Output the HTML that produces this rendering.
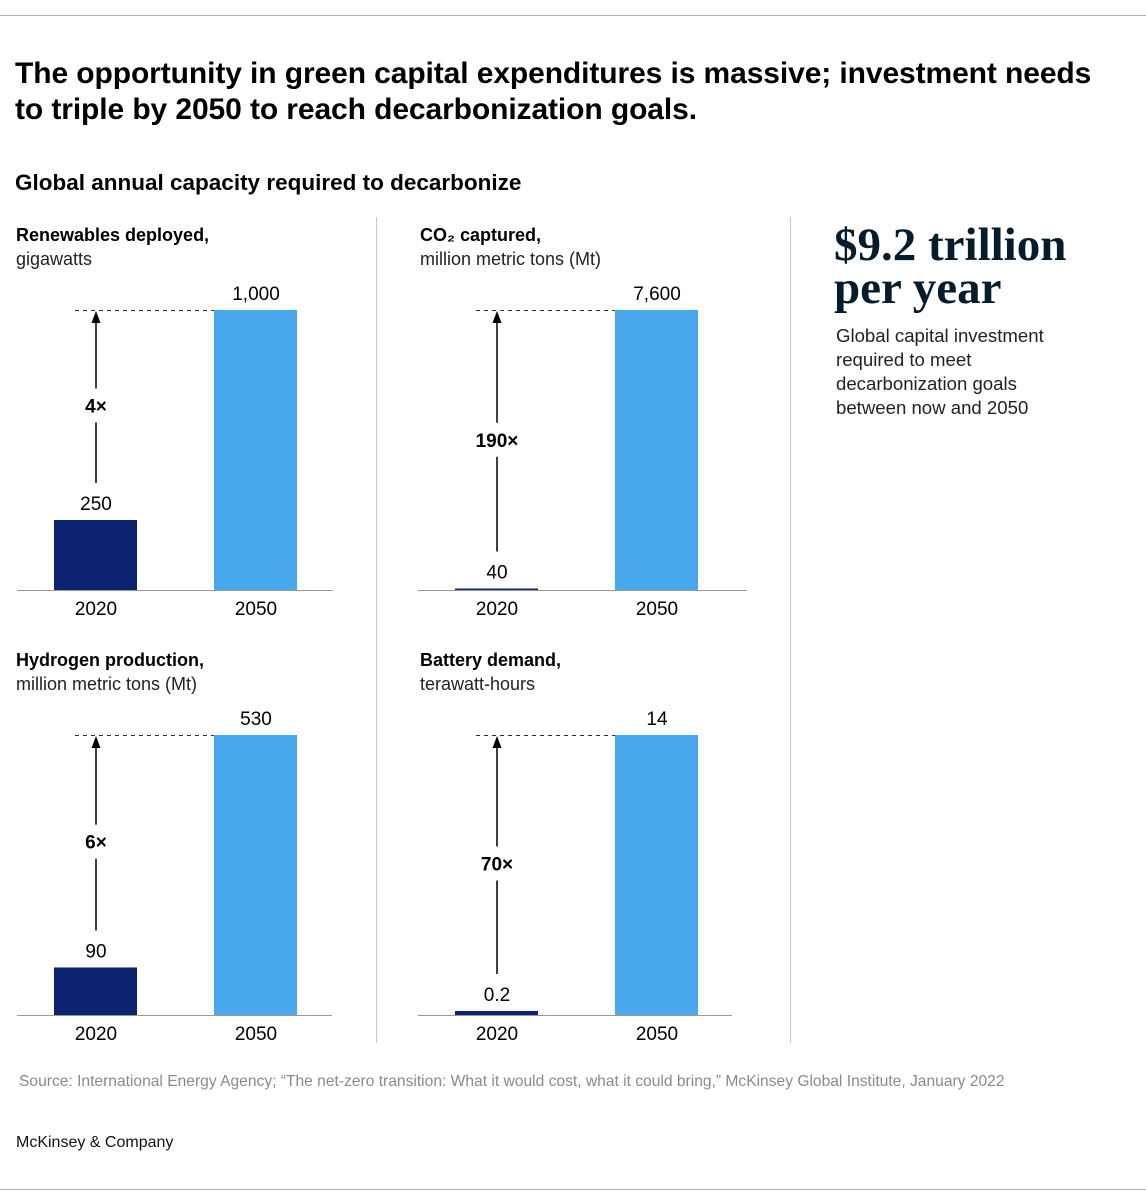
<!DOCTYPE html>
<html><head><meta charset="utf-8"><style>
html,body{margin:0;padding:0;background:#fff}
body{width:1146px;height:1200px;position:relative;overflow:hidden;font-family:"Liberation Sans",sans-serif;color:#000}
.abs{position:absolute;margin:0}
</style></head><body>
<div class="abs" style="left:0;top:15px;width:1146px;height:1px;background:#b3b3b3"></div>
<h1 class="abs" style="left:15px;top:56px;font-size:30px;line-height:36px;font-weight:bold;letter-spacing:-0.1px;width:1090px">The opportunity in green capital expenditures is massive; investment needs to triple by 2050 to reach decarbonization goals.</h1>
<div class="abs" style="left:15px;top:170px;font-size:22.5px;font-weight:bold">Global annual capacity required to decarbonize</div>
<svg class="abs" style="left:0;top:0" width="1146" height="1200" id="svg"></svg>
<div class="abs" style="left:834px;top:224px;font-family:'Liberation Serif',serif;font-weight:bold;font-size:47px;line-height:43px;color:#051c2c">$9.2 trillion<br>per year</div>
<div class="abs" style="left:836px;top:324px;font-size:18.6px;line-height:24px;color:#222">Global capital investment<br>required to meet<br>decarbonization goals<br>between now and 2050</div>
<div class="abs" style="left:19px;top:1073px;font-size:15.6px;color:#8a8a8a">Source: International Energy Agency; “The net-zero transition: What it would cost, what it could bring,” McKinsey Global Institute, January 2022</div>
<div class="abs" style="left:16px;top:1134px;font-size:16px;color:#111">McKinsey &amp; Company</div>
<div class="abs" style="left:0;top:1189px;width:1146px;height:1px;background:#b3b3b3"></div>
<script>
const panelTitles=["Renewables deployed,","CO₂ captured,","Hydrogen production,","Battery demand,"];
const panelUnits=["gigawatts","million metric tons (Mt)","million metric tons (Mt)","terawatt-hours"];
const categories=["2020","2050"];
const values2020=[250,40,90,0.2];
const values2050=[1000,7600,530,14];
const labels2020=["250","40","90","0.2"];
const labels2050=["1,000","7,600","530","14"];
const multipliers=["4×","190×","6×","70×"];
const NS="http://www.w3.org/2000/svg";
const svg=document.getElementById('svg');
function mk(t,a,p){const e=document.createElementNS(NS,t);for(const k in a)e.setAttribute(k,a[k]);(p||svg).appendChild(e);return e;}
const ox=[0,401,0,401], oy=[0,0,425,425], baseW=[316,329,315,314], tx=[16,19,16,19];
const H=280;
for(let i=0;i<4;i++){
  const g=mk('g',{transform:`translate(${ox[i]},${oy[i]})`});
  
  
  const t=mk('text',{x:tx[i],y:241,'font-size':18,'font-weight':'bold'},g);t.textContent=panelTitles[i];
  
  
  const u=mk('text',{x:tx[i],y:265,'font-size':18,fill:'#222'},g);u.textContent=panelUnits[i];
  
  
  const base=590, max=values2050[i];
  const y=v=>base-v/max*H;
  const xs=[54,214], cols=['#0a2270','#48a8eb'], vals=[values2020[i],values2050[i]], labs=[labels2020[i],labels2050[i]];
  for(let j=0;j<2;j++){
    const top=y(vals[j]);
    const r=mk('rect',{x:xs[j],y:top,width:83,height:Math.max(base-top,2),fill:cols[j]},g);
    
    
    const vl=mk('text',{x:xs[j]+42,y:top-10,'font-size':19,'text-anchor':'middle'},g);vl.textContent=labs[j];
    
    
    const cl=mk('text',{x:xs[j]+42,y:base+25,'font-size':19,'text-anchor':'middle'},g);cl.textContent=categories[j];
    
    
  }
  const bl=mk('line',{x1:17,x2:17+baseW[i],y1:base+0.5,y2:base+0.5,stroke:'#999','stroke-width':1},g);
  
  
  const topY=y(values2050[i]);
  const dl=mk('line',{x1:75,x2:214,y1:topY+0.5,y2:topY+0.5,stroke:'#333','stroke-width':1,'stroke-dasharray':'4,4'},g);
  
  
  const aBot=y(values2020[i])-37, mid=(aBot+topY)/2+9;
  const a1=mk('line',{x1:96,x2:96,y1:aBot,y2:mid+17,stroke:'#000','stroke-width':1.5},g);
  
  
  const a2=mk('line',{x1:96,x2:96,y1:mid-17,y2:topY+10,stroke:'#000','stroke-width':1.5},g);
  
  
  const ah=mk('polygon',{points:`96,${topY+1} 91.5,${topY+13} 100.5,${topY+13}`,fill:'#000'},g);
  
  
  const m=mk('text',{x:96,y:mid+7,'font-size':19,'font-weight':'bold','text-anchor':'middle'},g);m.textContent=multipliers[i];
  
  
}
[376,790].forEach(x=>{const d=mk('line',{x1:x+0.5,x2:x+0.5,y1:217,y2:1043,stroke:'#c8c8c8','stroke-width':1});
  
  });
</script>
</body></html>
